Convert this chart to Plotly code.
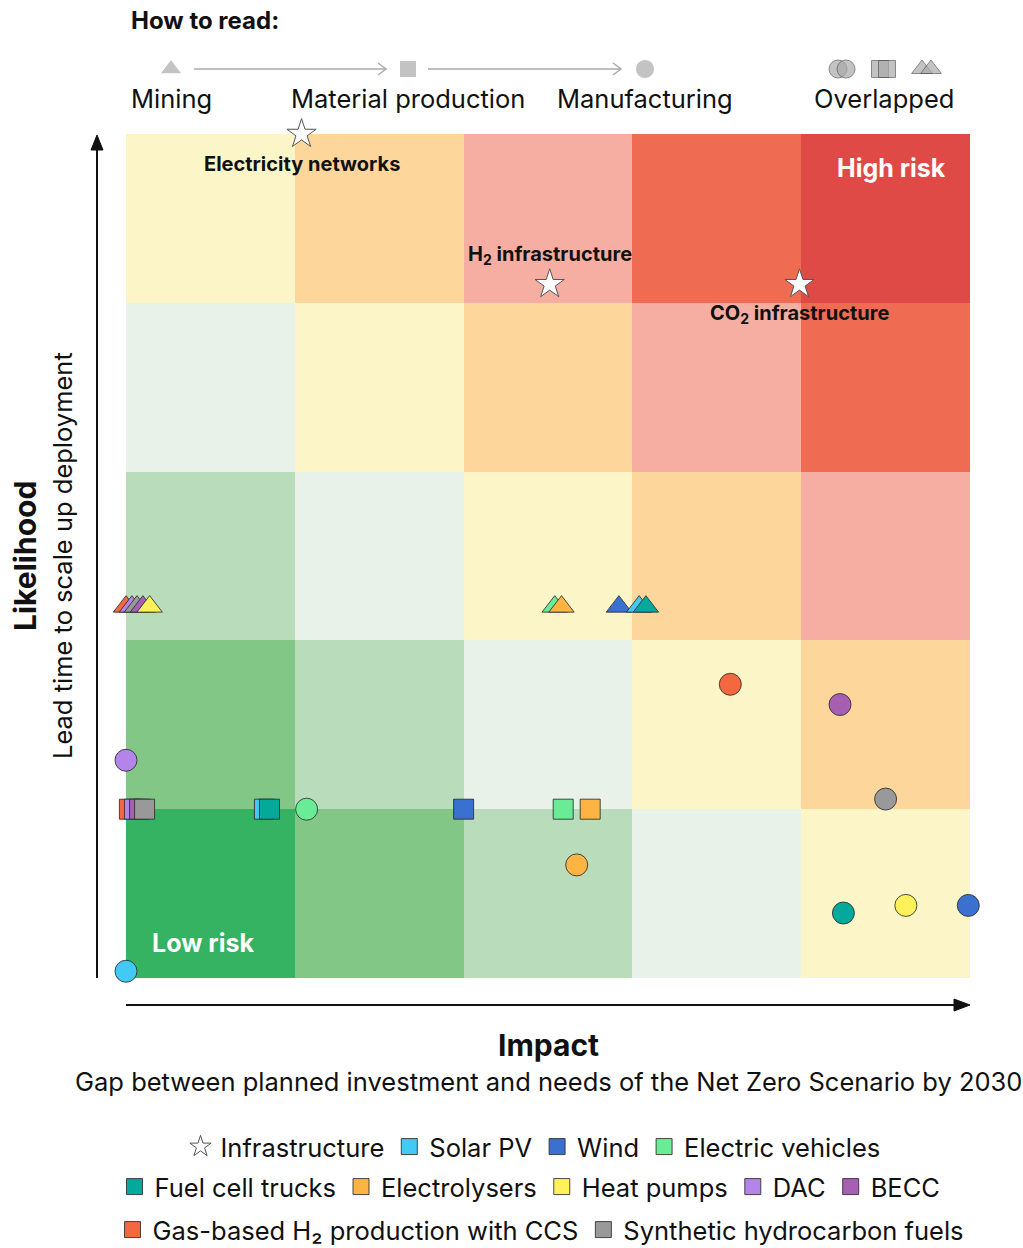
import plotly.graph_objects as go

FONT = "Inter"
W, H = 1023, 1248

# ---- risk matrix: 5x5 grid, colour by (impact level + likelihood level) ----
impact_levels = [0, 1, 2, 3, 4]
likelihood_levels = [0, 1, 2, 3, 4]
risk_colors = ["#35b262", "#82c785", "#b9ddbb", "#e8f2e8", "#fcf5c8",
               "#fdd69c", "#f5aea1", "#ef6b52", "#e04a46"]

# ---- technologies ----
techs = ["Solar PV", "Wind", "Electric vehicles", "Fuel cell trucks", "Electrolysers",
         "Heat pumps", "DAC", "BECC", "Gas-based H₂ production with CCS",
         "Synthetic hydrocarbon fuels"]
tech_colors = ["#42c9f5", "#3a70cf", "#68ed96", "#05a99b", "#fdb443",
               "#fef15a", "#b385ea", "#a65fb3", "#f4683f", "#999999"]

# Mining stage (triangles)
mining_impact = [3.04, 2.92, 2.54, 3.08, 2.58, 0.14, 0.035, 0.10, 0.0, 0.065]
mining_likelihood = [2.2, 2.2, 2.2, 2.2, 2.2, 2.2, 2.2, 2.2, 2.2, 2.2]

# Material production stage (squares)
material_impact = [0.82, 2.0, 2.59, 0.85, 2.75, -0.01, 0.05, 0.08, 0.02, 0.11]
material_likelihood = [1.0, 1.0, 1.0, 1.0, 1.0, 1.0, 1.0, 1.0, 1.0, 1.0]

# Manufacturing stage (circles)
manuf_impact = [0.0, 4.99, 1.07, 4.25, 2.67, 4.62, 0.0, 4.23, 3.58, 4.50]
manuf_likelihood = [0.04, 0.43, 1.0, 0.385, 0.67, 0.43, 1.29, 1.62, 1.74, 1.06]

# Infrastructure (stars)
infra_names = ["Electricity networks", "H<sub>2</sub> infrastructure", "CO<sub>2</sub> infrastructure"]
infra_impact = [1.04, 2.51, 3.99]
infra_likelihood = [5.0, 4.11, 4.11]
infra_label_shift = [-30, 29, -30]

# matrix area on the page (pixels)
PX0, PX1, PY0, PY1 = 126, 970, 134, 978

fig = go.Figure()

# background matrix
z = [[r + c for c in impact_levels] for r in likelihood_levels]
n = len(risk_colors)
cscale = []
for i, col in enumerate(risk_colors):
    cscale.append([i / n, col])
    cscale.append([(i + 1) / n, col])
fig.add_trace(go.Heatmap(
    x=[c + 0.5 for c in impact_levels], y=[r + 0.5 for r in likelihood_levels], z=z,
    colorscale=cscale, zmin=-0.5, zmax=n - 0.5, showscale=False, hoverinfo="skip"))

OUTLINE = dict(color="rgba(45,45,45,0.85)", width=1)


def stage_trace(xs, ys, symbol, size):
    order = sorted(range(len(xs)), key=lambda i: xs[i])
    return go.Scatter(
        x=[xs[i] for i in order], y=[ys[i] for i in order], mode="markers",
        text=[techs[i] for i in order], hoverinfo="text",
        marker=dict(symbol=symbol, size=size, color=[tech_colors[i] for i in order], line=OUTLINE),
        showlegend=False, cliponaxis=False)


fig.add_trace(stage_trace(mining_impact, mining_likelihood, "triangle-up", 22))
fig.add_trace(stage_trace(material_impact, material_likelihood, "square", 20))
fig.add_trace(stage_trace(manuf_impact, manuf_likelihood, "circle", 22))

fig.add_trace(go.Scatter(
    x=infra_impact, y=infra_likelihood, mode="markers", text=infra_names, hoverinfo="text",
    marker=dict(symbol="star", size=22, color="white", line=dict(color="#555555", width=1)),
    showlegend=False, cliponaxis=False))

annotations = []
for name, xv, yv, dy in zip(infra_names, infra_impact, infra_likelihood, infra_label_shift):
    annotations.append(dict(x=xv, y=yv, xref="x", yref="y", text="<b>" + name + "</b>",
                            showarrow=False, yshift=dy,
                            font=dict(family=FONT, size=20, color="#111111")))

# ---- "How to read" key above the matrix (page-pixel overlay axes x2/y2) ----
key_y = 69
key_gray = "#aaaaaa"
fig.add_trace(go.Scatter(
    x=[171, 408, 645], y=[key_y] * 3, mode="markers", hoverinfo="skip",
    marker=dict(symbol=["triangle-up", "square", "circle"], size=[19, 17, 19], color=key_gray),
    showlegend=False, cliponaxis=False, xaxis="x2", yaxis="y2"))
fig.add_trace(go.Scatter(
    x=[838, 846, 880, 887, 922, 931], y=[key_y] * 6, mode="markers", hoverinfo="skip",
    marker=dict(symbol=["circle", "circle", "square", "square", "triangle-up", "triangle-up"],
                size=[18, 18, 17, 17, 18, 18], color=key_gray, line=dict(color="#555555", width=1)),
    showlegend=False, cliponaxis=False, xaxis="x2", yaxis="y2"))


def pix(x, y, text, size=22, bold=False, color="#111", **kw):
    t = "<b>" + text + "</b>" if bold else text
    d = dict(x=x, y=y, xref="x2", yref="y2", text=t, showarrow=False,
             font=dict(family=FONT, size=size, color=color))
    d.update(kw)
    return d


shapes = []
# grey process arrows of the key
for x0, x1 in [(194, 386), (428, 621)]:
    shapes.append(dict(type="line", xref="x2", yref="y2", x0=x0, x1=x1, y0=key_y, y1=key_y,
                       line=dict(color=key_gray, width=1.5)))
    shapes.append(dict(type="path", xref="x2", yref="y2",
                       path=f"M {x1-8},{key_y-6} L {x1},{key_y} L {x1-8},{key_y+6}",
                       line=dict(color=key_gray, width=1.5)))

# black axis arrows
shapes.append(dict(type="line", xref="x2", yref="y2", x0=97, x1=97, y0=978, y1=146,
                   line=dict(color="#111", width=2)))
shapes.append(dict(type="path", xref="x2", yref="y2", path="M 91,150 L 97,135 L 103,150 Z",
                   fillcolor="#111", line=dict(color="#111", width=1)))
shapes.append(dict(type="line", xref="x2", yref="y2", x0=126, x1=958, y0=1005, y1=1005,
                   line=dict(color="#111", width=2)))
shapes.append(dict(type="path", xref="x2", yref="y2", path="M 954,999 L 970,1005 L 954,1011 Z",
                   fillcolor="#111", line=dict(color="#111", width=1)))

annotations.append(pix(129, 20, "How to read:", size=24, bold=True, xanchor="left"))
for txt, xv in [("Mining", 171), ("Material production", 408), ("Manufacturing", 645),
                ("Overlapped", 884)]:
    annotations.append(pix(xv, 98, txt, size=25.5))

# ---- corner labels ----
annotations.append(pix(891, 168, "High risk", size=25, bold=True, color="white"))
annotations.append(pix(203, 943, "Low risk", size=25, bold=True, color="white"))

# ---- axis titles ----
annotations.append(pix(548, 1045, "Impact", size=30, bold=True))
annotations.append(pix(548, 1081, "Gap between planned investment and needs of the Net Zero Scenario by 2030",
                       size=25.5))
annotations.append(pix(25, 556, "Likelihood", size=30, bold=True, textangle=-90))
annotations.append(pix(62, 556, "Lead time to scale up deployment", size=25.5, textangle=-90))

# ---- legend: three rows ----
legend_rows = [
    ["Infrastructure", "Solar PV", "Wind", "Electric vehicles"],
    ["Fuel cell trucks", "Electrolysers", "Heat pumps", "DAC", "BECC"],
    ["Gas-based H₂ production with CCS", "Synthetic hydrocarbon fuels"],
]
legend_ids = ["legend", "legend2", "legend3"]
for row, lid in zip(legend_rows, legend_ids):
    for name in row:
        if name == "Infrastructure":
            mk = dict(symbol="star", size=16, color="white", line=dict(color="#555555", width=1))
        else:
            mk = dict(symbol="square", size=16, color=tech_colors[techs.index(name)], line=OUTLINE)
        fig.add_trace(go.Scatter(x=[None], y=[None], mode="markers", name=name, marker=mk,
                                 legend=lid, showlegend=True))

leg_common = dict(orientation="h", xanchor="center", yanchor="middle", bgcolor="rgba(0,0,0,0)",
                  font=dict(family=FONT, size=25.5, color="#111"), itemclick=False, itemdoubleclick=False)

fig.update_layout(
    width=W, height=H,
    margin=dict(l=0, r=0, t=0, b=0, autoexpand=False),
    paper_bgcolor="white", plot_bgcolor="rgba(0,0,0,0)",
    xaxis=dict(range=[0, 5], visible=False, fixedrange=True, domain=[PX0 / W, PX1 / W]),
    yaxis=dict(range=[0, 5], visible=False, fixedrange=True, domain=[1 - PY1 / H, 1 - PY0 / H]),
    xaxis2=dict(range=[0, W], visible=False, fixedrange=True, domain=[0, 1], anchor="y2"),
    yaxis2=dict(range=[H, 0], visible=False, fixedrange=True, domain=[0, 1], anchor="x2"),
    annotations=annotations,
    shapes=shapes,
    legend=dict(x=533 / W, y=1 - 1147 / H, **leg_common),
    legend2=dict(x=530 / W, y=1 - 1187 / H, **leg_common),
    legend3=dict(x=541 / W, y=1 - 1230 / H, **leg_common),
    font=dict(family=FONT),
)

fig.write_html("out.html")
